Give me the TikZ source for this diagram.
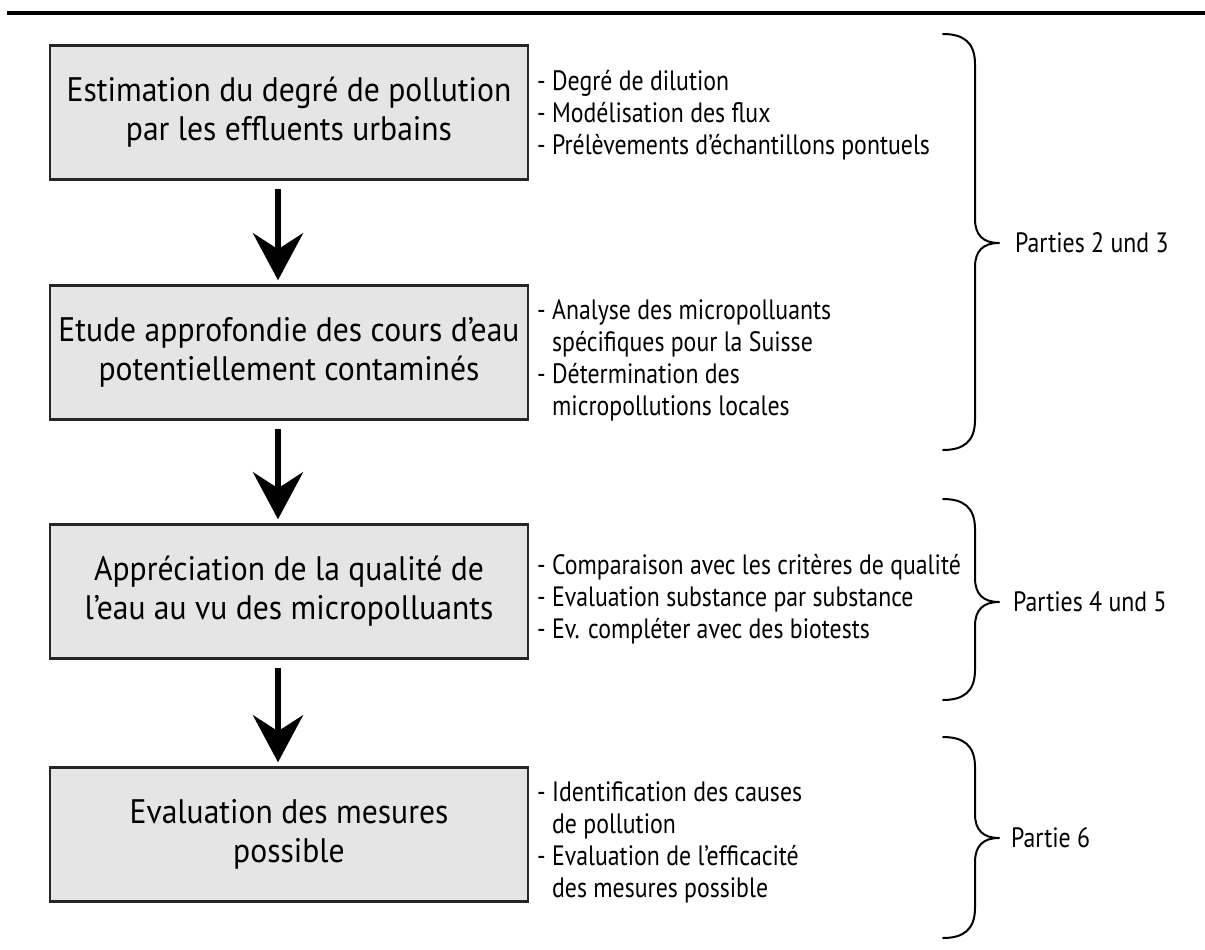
\documentclass[tikz,border=0pt]{standalone}
\usepackage{fontspec}
\setmainfont{PT Sans}
\newfontfamily\sidefont[FakeStretch=0.85]{PT Sans}
\newfontfamily\boxfont[FakeStretch=0.93]{PT Sans}
\usetikzlibrary{arrows.meta}
\newcommand\myind{\hphantom{-\ }}
\newcommand\mybrace[3]{%
  \draw[brace] (943,#1) .. controls (963,#1) and (975,#1+8) .. (975,#1+30)
    -- (975,#2-24) .. controls (975,#2-8) and (983,#2) .. (999,#2)
    .. controls (983,#2) and (975,#2+8) .. (975,#2+24)
    -- (975,#3-30) .. controls (975,#3-8) and (963,#3) .. (943,#3);}
\begin{document}
\begin{tikzpicture}[x=1pt,y=-1pt,
  box/.style={draw=black!85, line width=2.5pt, fill=black!10, minimum width=478pt,
    minimum height=134pt, inner sep=0pt, align=center, font=\boxfont\fontsize{34}{39}\selectfont},
  side/.style={anchor=west, align=left, inner sep=0pt, font=\sidefont\fontsize{28}{32}\selectfont},
  part/.style={anchor=west, inner sep=0pt, font=\sidefont\fontsize{28}{32}\selectfont},
  flow/.style={line width=6pt, -{Stealth[length=47pt,width=50pt,inset=16pt]}},
  brace/.style={line width=2pt, line cap=round, line join=round}
]
\useasboundingbox (0,0) rectangle (1205,950);
\fill[white] (0,0) rectangle (1205,950);
\draw[line width=4.5pt] (7,13) -- (1205,13);

\node[box] (b1) at (289,112.5) {Estimation du degré de pollution\\par les effluents urbains};
\node[box] (b2) at (289,352.5) {Etude approfondie des cours d’eau\\potentiellement contaminés};
\node[box] (b3) at (289,591.5) {Appréciation de la qualité de\\l’eau au vu des micropolluants};
\node[box] (b4) at (289,834.5) {Evaluation des mesures\\possible};

\draw[flow] ([xshift=-11pt,yshift=-8pt]b1.south) -- ([xshift=-11pt,yshift=4pt]b2.north);
\draw[flow] ([xshift=-11pt,yshift=-8pt]b2.south) -- ([xshift=-11pt,yshift=4pt]b3.north);
\draw[flow] ([xshift=-11pt,yshift=-8pt]b3.south) -- ([xshift=-11pt,yshift=4pt]b4.north);

\node[side] (t1) at (537,115) {- Degré de dilution\\- Modélisation des flux\\- Prélèvements d’échantillons pontuels};
\node[side] (t2) at (537,360) {- Analyse des micropolluants\\\myind spécifiques pour la Suisse\\- Détermination des\\\myind micropollutions locales};
\node[side] (t3) at (537,599) {- Comparaison avec les critères de qualité\\- Evaluation substance par substance\\- Ev. compléter avec des biotests};
\node[side] (t4) at (537,842) {- Identification des causes\\\myind de pollution\\- Evaluation de l’efficacité\\\myind des mesures possible};

\mybrace{34}{243}{450}
\mybrace{499}{602}{700}
\mybrace{737}{838}{938}

\node[part] (p1) at (1015,243) {Parties 2 und 3};
\node[part] (p2) at (1013,602) {Parties 4 und 5};
\node[part] (p3) at (1011,838) {Partie 6};
\end{tikzpicture}
\end{document}
